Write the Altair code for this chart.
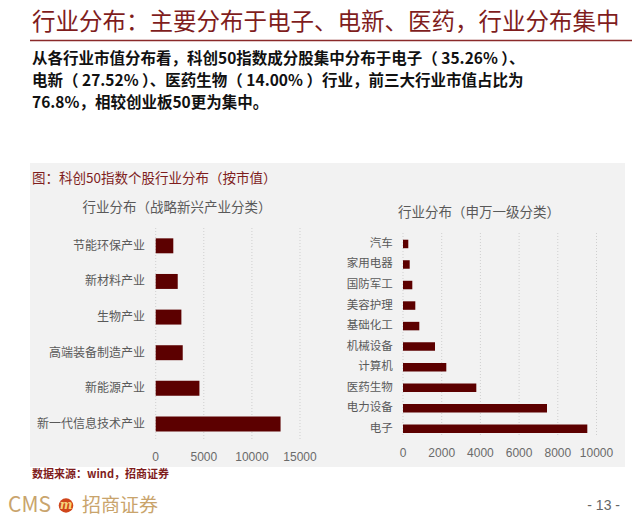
import altair as alt
import pandas as pd

# ---------------- data ----------------
left_categories = ["节能环保产业", "新材料产业", "生物产业", "高端装备制造产业", "新能源产业", "新一代信息技术产业"]
left_values = [1830, 2290, 2670, 2810, 4545, 12980]
left_ticks = [0, 5000, 10000, 15000]

right_categories = ["汽车", "家用电器", "国防军工", "美容护理", "基础化工", "机械设备", "计算机", "医药生物", "电力设备", "电子"]
right_values = [274, 346, 481, 636, 843, 1654, 2238, 3789, 7442, 9525]
right_ticks = [0, 2000, 4000, 6000, 8000, 10000]

title_text = "行业分布：主要分布于电子、电新、医药，行业分布集中"
paragraph_lines = [
    "从各行业市值分布看，科创50指数成分股集中分布于电子（ 35.26% ）、",
    "电新（ 27.52% ）、医药生物（ 14.00% ）行业，前三大行业市值占比为",
    "76.8%，相较创业板50更为集中。",
]
panel_title = "图：科创50指数个股行业分布（按市值）"
left_subtitle = "行业分布（战略新兴产业分类）"
right_subtitle = "行业分布（申万一级分类）"
source_text = "数据来源：wind，招商证券"
logo_text = "CMS"
logo_cn = "招商证券"
page_text = "- 13 -"

# ---------------- style ----------------
FONT = "Noto Sans CJK SC"
NUMFONT = "Liberation Sans"
DARKRED = "#7F1D1D"
BAR = "#5C0000"
GREY_TXT = "#595959"
TAN = "#C9A46C"
W, H = 624, 511


def txt(text, x, y, size, color, weight="normal", align="left", font=FONT):
    return alt.Chart(pd.DataFrame({"t": [text]})).mark_text(
        align=align, baseline="middle", fontSize=size, color=color,
        font=font, fontWeight=weight,
    ).encode(x=alt.value(x), y=alt.value(y), text="t:N")


# background panel
panel = alt.Chart(pd.DataFrame({"a": [0]})).mark_rect(color="#F2F2F2").encode(
    x=alt.value(22), x2=alt.value(617), y=alt.value(155), y2=alt.value(459)
)

# header
title = txt(title_text, 24, 14.5, 23.5, DARKRED)
rule = alt.Chart(pd.DataFrame({"a": [0]})).mark_rule(color="#8B2A2A", strokeWidth=1.5).encode(
    x=alt.value(22), x2=alt.value(624), y=alt.value(32.5)
)
para = [txt(line, 24, 50.5 + i * 22, 15.5, "#111111", weight="bold") for i, line in enumerate(paragraph_lines)]

ptitle = txt(panel_title, 24, 171, 13.5, DARKRED)
lsub = txt(left_subtitle, 169, 200, 13.5, GREY_TXT, align="center")
rsub = txt(right_subtitle, 471, 205, 13.5, GREY_TXT, align="center")

# ---------------- left chart ----------------
left_df = pd.DataFrame({"cat": left_categories, "val": left_values})
lticks_df = pd.DataFrame({"t": left_ticks})
lx = alt.Scale(domain=[0, 15000], range=[147.7, 292], nice=False, zero=True)
ly = alt.Scale(domain=left_categories, range=[220, 433.8], paddingInner=0.58, paddingOuter=0.29)

left_grid = alt.Chart(lticks_df).mark_rule(
    color="#CFCFCF", strokeDash=[1, 2], strokeWidth=1
).encode(x=alt.X("t:Q", scale=lx, axis=None), y=alt.value(220), y2=alt.value(432))

left_bars = alt.Chart(left_df).mark_bar(color=BAR).encode(
    x=alt.X("val:Q", scale=lx, axis=None),
    y=alt.Y("cat:N", scale=ly, sort=left_categories, axis=None),
)

left_cat_labels = alt.Chart(left_df).mark_text(
    align="right", baseline="middle", font=FONT, fontSize=12, color=GREY_TXT
).encode(
    y=alt.Y("cat:N", scale=ly, sort=left_categories, axis=None),
    x=alt.value(137), text="cat:N",
)

left_tick_labels = alt.Chart(lticks_df).mark_text(
    align="center", baseline="middle", font=NUMFONT, fontSize=12, color="#6A6A6A"
).encode(
    x=alt.X("t:Q", scale=lx, axis=None), y=alt.value(448.7), text=alt.Text("t:Q", format="d"),
)

# ---------------- right chart ----------------
right_df = pd.DataFrame({"cat": right_categories, "val": right_values})
rticks_df = pd.DataFrame({"t": right_ticks})
rx = alt.Scale(domain=[0, 10000], range=[395, 588.5], nice=False, zero=True)
ry = alt.Scale(domain=right_categories, range=[225.7, 431], paddingInner=0.586, paddingOuter=0.293)

right_grid = alt.Chart(rticks_df).mark_rule(
    color="#CFCFCF", strokeDash=[1, 2], strokeWidth=1
).encode(x=alt.X("t:Q", scale=rx, axis=None), y=alt.value(225), y2=alt.value(429))

right_bars = alt.Chart(right_df).mark_bar(color=BAR).encode(
    x=alt.X("val:Q", scale=rx, axis=None),
    y=alt.Y("cat:N", scale=ry, sort=right_categories, axis=None),
)

right_cat_labels = alt.Chart(right_df).mark_text(
    align="right", baseline="middle", font=FONT, fontSize=11.5, color=GREY_TXT
).encode(
    y=alt.Y("cat:N", scale=ry, sort=right_categories, axis=None),
    x=alt.value(384.7), text="cat:N",
)

right_tick_labels = alt.Chart(rticks_df).mark_text(
    align="center", baseline="middle", font=NUMFONT, fontSize=12, color="#6A6A6A"
).encode(
    x=alt.X("t:Q", scale=rx, axis=None), y=alt.value(445.3), text=alt.Text("t:Q", format="d"),
)

# ---------------- footer ----------------
source = txt(source_text, 24, 467, 11, DARKRED, weight="bold")
cms = txt(logo_text, 0, 497.5, 21, TAN)
logo_circle = alt.Chart(pd.DataFrame({"a": [0]})).mark_circle(color="#D0461B", opacity=1, size=210).encode(
    x=alt.value(58), y=alt.value(497.5)
)
logo_m = alt.Chart(pd.DataFrame({"t": ["m"]})).mark_text(
    fontSize=12, fontWeight="bold", fontStyle="italic", color="#F6D37A", font="DejaVu Serif"
).encode(x=alt.value(58), y=alt.value(496.5), text="t:N")
cms_cn = txt(logo_cn, 74, 497.5, 19, TAN)
page = txt(page_text, 612, 497.5, 14, "#666666", align="right", font=NUMFONT)

layers = [panel, title, rule] + para + [
    ptitle, lsub, rsub,
    left_grid, left_bars, left_cat_labels, left_tick_labels,
    right_grid, right_bars, right_cat_labels, right_tick_labels,
    source, cms, logo_circle, logo_m, cms_cn, page,
]

chart = alt.layer(*layers).resolve_scale(x="independent", y="independent").properties(
    width=W, height=H, autosize=alt.AutoSizeParams(type="none"), padding=0, background="white"
).configure_view(stroke=None)

chart.save("out.html", embed_options={"renderer": "svg", "actions": False})
